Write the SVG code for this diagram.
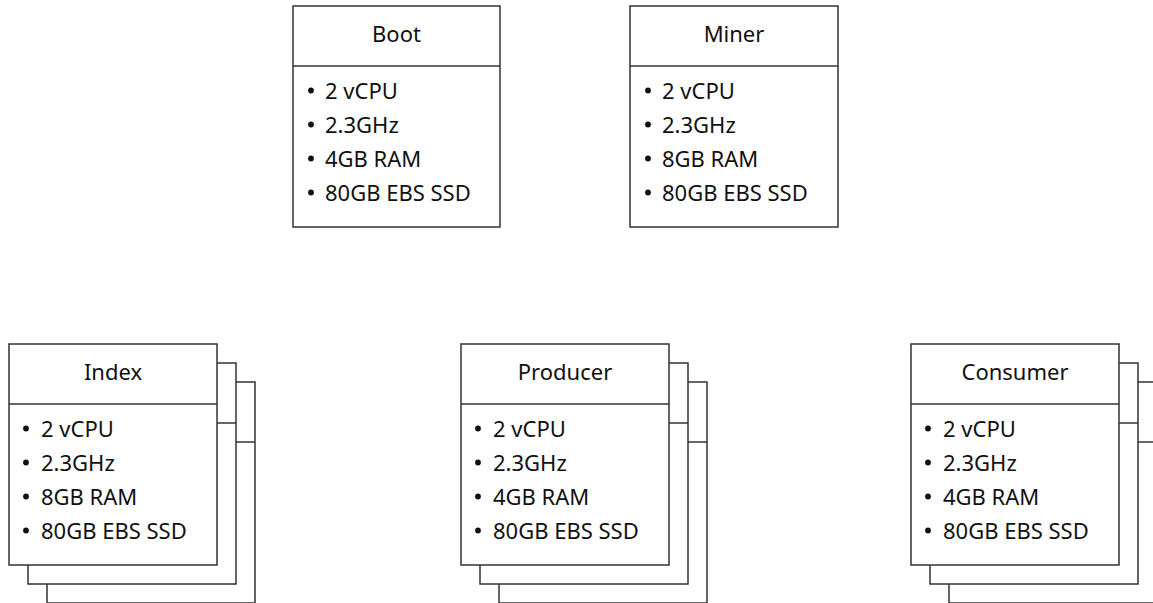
<svg xmlns="http://www.w3.org/2000/svg" width="1153" height="603" viewBox="0 0 1153 603">
  <defs>
    <style>
      .card { fill: #ffffff; stroke: #333333; stroke-width: 1.5; }
      .rule { stroke: #333333; stroke-width: 1.5; fill: none; }
      .title { font-family: "Noto Sans", "Open Sans", sans-serif; font-size: 22px; fill: #111111; text-anchor: middle; }
      .item { font-family: "Noto Sans", "Open Sans", sans-serif; font-size: 22px; fill: #111111; }
      .dot { fill: #111111; }
    </style>
    <!-- one empty card outline (box + header rule), used for the stacked copies -->
    <g id="blank">
      <rect class="card" x="0" y="0" width="208" height="221"/>
      <line class="rule" x1="0" y1="60" x2="208" y2="60"/>
    </g>
    <!-- list markers for the four spec lines of a card -->
    <g id="bullets">
      <circle class="dot" cx="0" cy="84.5" r="2.9"/>
      <circle class="dot" cx="0" cy="118.5" r="2.9"/>
      <circle class="dot" cx="0" cy="152.5" r="2.9"/>
      <circle class="dot" cx="0" cy="186.5" r="2.9"/>
    </g>
  </defs>

  <g id="connectors"/>

  <!-- Boot -->
  <g id="boot" transform="translate(293,6)">
    <rect class="card" x="0" y="0" width="207" height="221"/>
    <line class="rule" x1="0" y1="60" x2="207" y2="60"/>
    <text class="title" x="103.5" y="36">Boot</text>
    <use href="#bullets" x="18"/>
    <text class="item" x="32" y="93">2 vCPU</text>
    <text class="item" x="32" y="127">2.3GHz</text>
    <text class="item" x="32" y="161">4GB RAM</text>
    <text class="item" x="32" y="195">80GB EBS SSD</text>
  </g>

  <!-- Miner -->
  <g id="miner" transform="translate(630,6)">
    <rect class="card" x="0" y="0" width="208" height="221"/>
    <line class="rule" x1="0" y1="60" x2="208" y2="60"/>
    <text class="title" x="104" y="36">Miner</text>
    <use href="#bullets" x="18"/>
    <text class="item" x="32" y="93">2 vCPU</text>
    <text class="item" x="32" y="127">2.3GHz</text>
    <text class="item" x="32" y="161">8GB RAM</text>
    <text class="item" x="32" y="195">80GB EBS SSD</text>
  </g>

  <!-- Index (stacked instances) -->
  <g id="index" transform="translate(9,344)">
    <use href="#blank" x="38" y="38"/>
    <use href="#blank" x="19" y="19"/>
    <rect class="card" x="0" y="0" width="208" height="221"/>
    <line class="rule" x1="0" y1="60" x2="208" y2="60"/>
    <text class="title" x="104" y="36">Index</text>
    <use href="#bullets" x="17"/>
    <text class="item" x="32" y="93">2 vCPU</text>
    <text class="item" x="32" y="127">2.3GHz</text>
    <text class="item" x="32" y="161">8GB RAM</text>
    <text class="item" x="32" y="195">80GB EBS SSD</text>
  </g>

  <!-- Producer (stacked instances) -->
  <g id="producer" transform="translate(461,344)">
    <use href="#blank" x="38" y="38"/>
    <use href="#blank" x="19" y="19"/>
    <rect class="card" x="0" y="0" width="208" height="221"/>
    <line class="rule" x1="0" y1="60" x2="208" y2="60"/>
    <text class="title" x="104" y="36">Producer</text>
    <use href="#bullets" x="17"/>
    <text class="item" x="32" y="93">2 vCPU</text>
    <text class="item" x="32" y="127">2.3GHz</text>
    <text class="item" x="32" y="161">4GB RAM</text>
    <text class="item" x="32" y="195">80GB EBS SSD</text>
  </g>

  <!-- Consumer (stacked instances) -->
  <g id="consumer" transform="translate(911,344)">
    <use href="#blank" x="38" y="38"/>
    <use href="#blank" x="19" y="19"/>
    <rect class="card" x="0" y="0" width="208" height="221"/>
    <line class="rule" x1="0" y1="60" x2="208" y2="60"/>
    <text class="title" x="104" y="36">Consumer</text>
    <use href="#bullets" x="17"/>
    <text class="item" x="32" y="93">2 vCPU</text>
    <text class="item" x="32" y="127">2.3GHz</text>
    <text class="item" x="32" y="161">4GB RAM</text>
    <text class="item" x="32" y="195">80GB EBS SSD</text>
  </g>
</svg>
